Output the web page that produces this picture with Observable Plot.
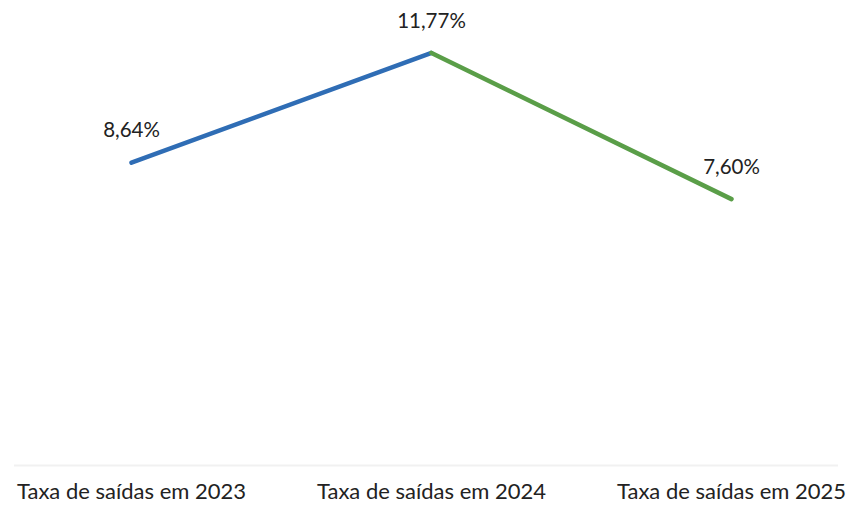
<!DOCTYPE html>
<html>
<head>
<meta charset="utf-8">
<script src="https://cdn.jsdelivr.net/npm/d3@7"></script>
<script src="https://cdn.jsdelivr.net/npm/@observablehq/plot@0.6"></script>
<style>
  html, body { margin: 0; padding: 0; background: #fff; }
  #chart svg { display: block; }
</style>
</head>
<body>
<div id="chart"></div>
<script>
const categories = ["Taxa de saídas em 2023", "Taxa de saídas em 2024", "Taxa de saídas em 2025"];
const values = [8.64, 11.77, 7.60];
const labels = ["8,64%", "11,77%", "7,60%"];
const segmentColors = ["#2f6db5", "#5a9e48"];

const points = categories.map((c, i) => ({cat: c, v: values[i], label: labels[i]}));
const segments = [];
for (let i = 0; i < points.length - 1; i++) {
  segments.push({...points[i], seg: i});
  segments.push({...points[i + 1], seg: i});
}

const chart = Plot.plot({
  width: 848,
  height: 505,
  marginLeft: 0,
  marginRight: 0,
  marginTop: 0,
  marginBottom: 40,
  style: {fontFamily: "Lato, sans-serif", fontSize: "20px", color: "#222", background: "#fff"},
  x: {domain: categories, range: [130, 731], type: "point", padding: 0, label: null},
  y: {domain: [0, 12], range: [465, 44.4], axis: null},
  marks: [
    Plot.ruleY([0], {stroke: "#f1f1f1", strokeWidth: 2, insetLeft: 14, insetRight: 10}),
    Plot.line(segments, {x: "cat", y: "v", z: "seg", stroke: d => segmentColors[d.seg], strokeWidth: 4.5, strokeLinecap: "round", strokeLinejoin: "round"}),
    Plot.text(points, {x: "cat", y: "v", text: "label", dy: -32, fill: "#222", fontSize: 20.5}),
    Plot.axisX({tickSize: 0, tickPadding: 18, fontSize: 22, fill: "#222"})
  ]
});
document.getElementById("chart").appendChild(chart);
</script>
</body>
</html>
